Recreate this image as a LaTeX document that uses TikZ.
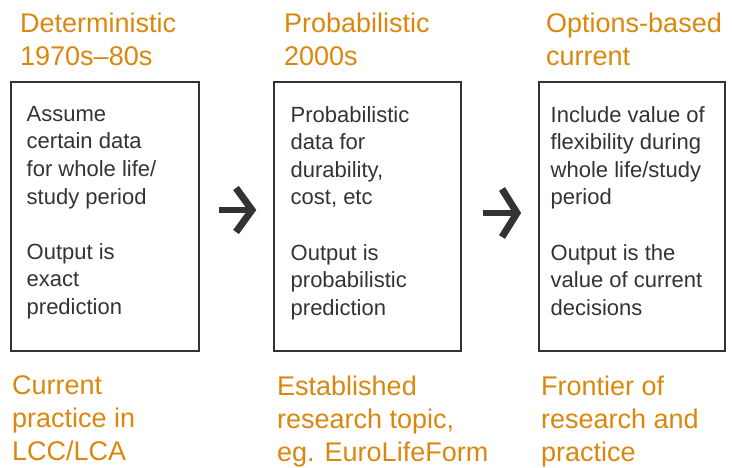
\documentclass[tikz,border=0pt]{standalone}
\usepackage{fontspec}
\setmainfont{Liberation Sans}
\definecolor{heading}{RGB}{219,135,14}
\definecolor{ink}{RGB}{51,51,51}
\begin{document}
\begin{tikzpicture}[x=1pt,y=-1pt,
  headtext/.style={anchor=north west,inner sep=0pt,align=left,text=heading,
    font=\fontsize{27}{33}\selectfont},
  bodytext/.style={anchor=north west,inner sep=0pt,align=left,text=ink,
    font=\fontsize{22}{27.6}\selectfont},
  stagebox/.style={draw=ink,line width=1.2pt,inner sep=0pt},
  shaft/.style={draw=ink,line width=6pt},
  chevron/.style={draw=ink,line width=7pt,line join=miter}]
\useasboundingbox (0,0) rectangle (732,468);

% stage frames
\node[stagebox,minimum width=188pt,minimum height=269pt] (box1) at (105,216.5) {};
\node[stagebox,minimum width=187pt,minimum height=269pt] (box2) at (367.5,216.5) {};
\node[stagebox,minimum width=186pt,minimum height=269pt] (box3) at (632,216.5) {};

% headings above the frames
\node[headtext] (head1) at (20,12.5) {Deterministic\\1970s–80s};
\node[headtext] (head2) at (284,12.5) {Probabilistic\\2000s};
\node[headtext] (head3) at (546,12.5) {Options-based\\current};

% frame contents
\node[bodytext] (body1) at (26.5,106) {Assume\\certain data\\for whole life/\\study period\\[27.6pt]Output is\\exact\\prediction};
\node[bodytext] (body2) at (290.5,106) {Probabilistic\\data for\\durability,\\cost, etc\\[27.6pt]Output is\\probabilistic\\prediction};
\node[bodytext] (body3) at (550.5,106) {Include value of\\flexibility during\\whole life/study\\period\\[27.6pt]Output is the\\value of current\\decisions};

% captions below the frames
\node[headtext] (foot1) at (12,375.5) {Current\\practice in\\LCC/LCA};
\node[headtext] (foot2) at (277,375.5) {Established\\research topic,\\eg. EuroLifeForm};
\node[headtext] (foot3) at (541,375.5) {Frontier of\\research and\\practice};

% arrows between stages
\coordinate (a1s) at (219,210);
\coordinate (a1e) at (250,210);
\coordinate (a1t) at (236,188);
\coordinate (a1p) at (252,210);
\coordinate (a1b) at (236,232);
\draw[shaft] (a1s) -- (a1e);
\draw[chevron] (a1t) -- (a1p) -- (a1b);

\coordinate (a2s) at (483,213);
\coordinate (a2e) at (515,213);
\coordinate (a2t) at (502,189);
\coordinate (a2p) at (517,213);
\coordinate (a2b) at (502,237);
\draw[shaft] (a2s) -- (a2e);
\draw[chevron] (a2t) -- (a2p) -- (a2b);
\end{tikzpicture}
\end{document}
